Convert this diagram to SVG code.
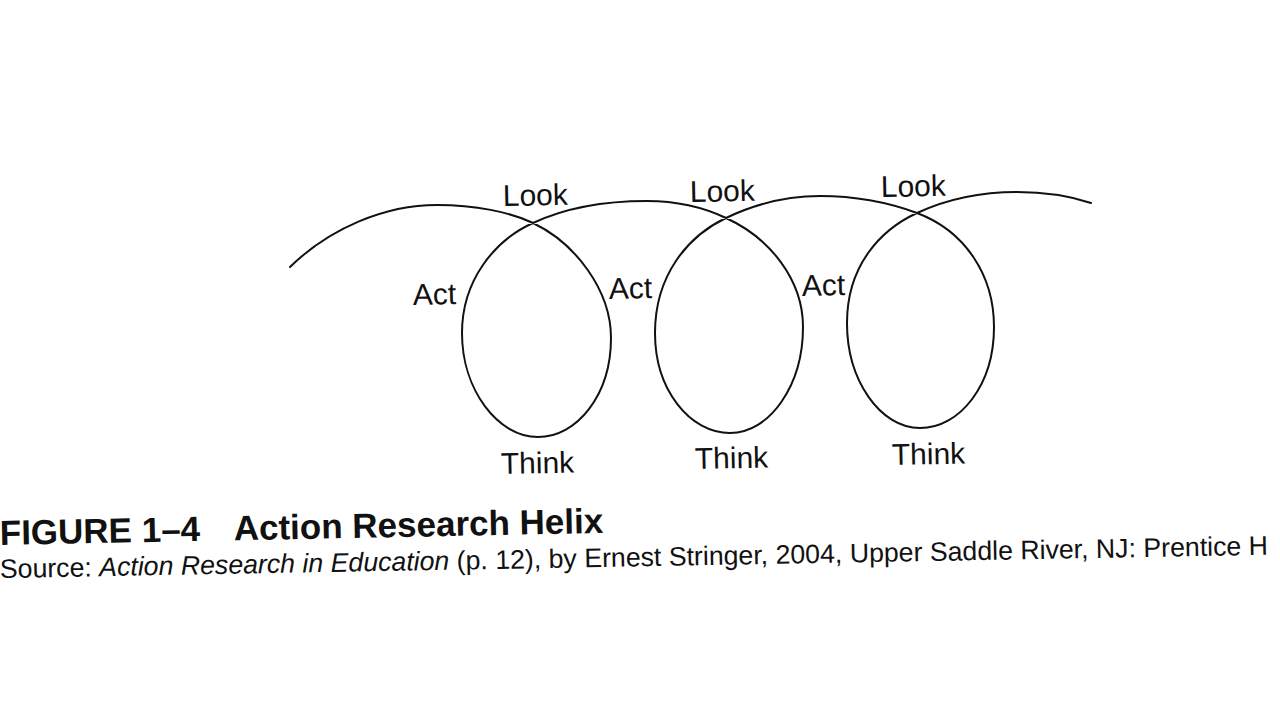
<svg xmlns="http://www.w3.org/2000/svg" width="1280" height="720" viewBox="0 0 1280 720">
<style>
.lbl{font-family:"Liberation Sans",Arial,sans-serif;font-size:30px;fill:#111}
.curve{fill:none;stroke:#111;stroke-width:2;stroke-linecap:round;stroke-linejoin:round}
.title{font-family:"Liberation Sans",Arial,sans-serif;font-size:35px;font-weight:bold;fill:#111}
.src{font-family:"Liberation Sans",Arial,sans-serif;font-size:26.7px;fill:#111}
</style>
<rect width="1280" height="720" fill="#ffffff"/>
<g id="connectors">
<path class="curve" d="M290,267 C330,228 385,205 437,205 C475,205 510,212 533,223 C575,243 611,290 611,338 C611,395 577,437 538,437 C498,437 462,390 462,333 C462,280 495,240 533,223 C565,208 605,201 647,201 C680,201 705,208 726,218 C770,238 803,280 803,327 C803,385 770,433 730,433 C690,433 655,390 655,333 C655,275 688,236 726,218 C755,204 787,196 820,196 C855,196 890,203 917,213 C965,231 994,275 994,327 C994,385 960,428 920,428 C880,428 847,380 847,323 C847,266 880,230 917,213 C945,200 980,192 1017,192 C1045,192 1070,196 1091,203"/>
</g>
<g id="look1"><text class="lbl" x="503" y="206" transform="rotate(-1.2 503 206)">Look</text></g>
<g id="look2"><text class="lbl" x="690" y="202" transform="rotate(-1.2 690 202)">Look</text></g>
<g id="look3"><text class="lbl" x="881" y="197" transform="rotate(-1.2 881 197)">Look</text></g>
<g id="act1"><text class="lbl" x="413" y="305" transform="rotate(-1.2 413 305)">Act</text></g>
<g id="act2"><text class="lbl" x="609" y="299" transform="rotate(-1.2 609 299)">Act</text></g>
<g id="act3"><text class="lbl" x="802" y="296" transform="rotate(-1.2 802 296)">Act</text></g>
<g id="think1"><text class="lbl" x="501" y="474" transform="rotate(-1.2 501 474)">Think</text></g>
<g id="think2"><text class="lbl" x="695" y="469" transform="rotate(-1.2 695 469)">Think</text></g>
<g id="think3"><text class="lbl" x="892" y="465" transform="rotate(-1.2 892 465)">Think</text></g>
<g id="caption">
<text class="title" x="0" y="545" transform="rotate(-1.15 0 545)">FIGURE 1–4<tspan x="234">Action Research Helix</tspan></text>
<text class="src" x="0" y="578" transform="rotate(-1.05 0 578)">Source: <tspan font-style="italic">Action Research in Education</tspan> (p. 12), by Ernest Stringer, 2004, Upper Saddle River, NJ: Prentice H</text>
</g>
</svg>
